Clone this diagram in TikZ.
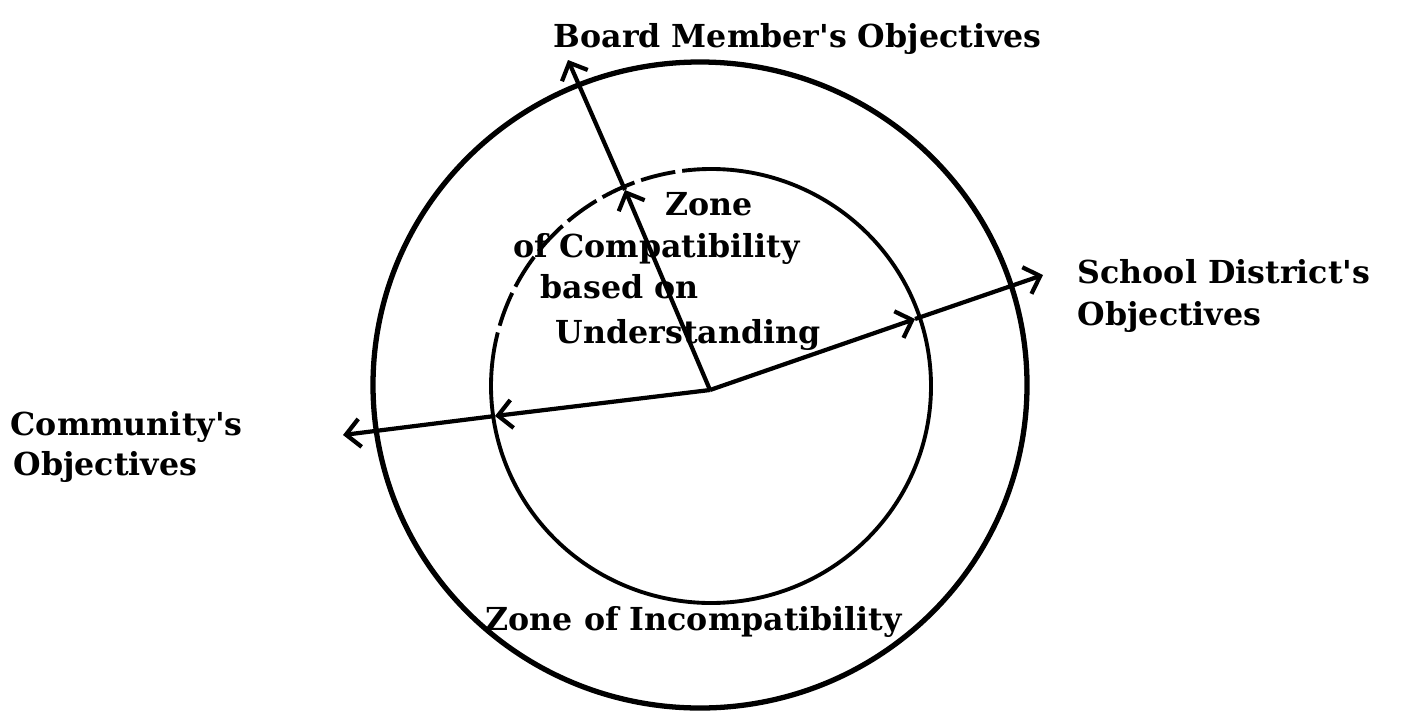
\documentclass[tikz,border=0pt]{standalone}
\usepackage{fontspec}
\setmainfont{DejaVu Serif}
\usetikzlibrary{arrows.meta}
\begin{document}
\begin{tikzpicture}[x=0.01cm,y=-0.01cm,
  lbl/.style={font=\bfseries\fontsize{9.0}{11.7}\selectfont, inner sep=0pt, anchor=base west},
  ring/.style={line width=1.5pt},
  inring/.style={line width=1.1pt},
  arr/.style={line width=1.2pt, -{Straight Barb[length=4pt,width=8pt,line width=1.2pt]}},
]
\useasboundingbox (0,0) rectangle (1401,712);
% rings
\draw[ring] (700,385) ellipse (327 and 323);
\draw[inring] (711,386) ++(-95:220 and 217) arc[start angle=-95, end angle=185, x radius=220, y radius=217];
\draw[inring, dash pattern=on 10pt off 2pt] (711,386) ++(185:220 and 217) arc[start angle=185, end angle=265, x radius=220, y radius=217];
% arrow points
\coordinate (c) at (710,390);
\coordinate (bm) at (625,190);
\coordinate (bt) at (568,60);
\coordinate (sm) at (915,319);
\coordinate (st) at (1043,275);
\coordinate (cm) at (495,416);
\coordinate (ct) at (343,435);
\draw[arr] (c) -- (bm);
\draw[arr] (bm) -- (bt);
\draw[arr] (c) -- (sm);
\draw[arr] (sm) -- (st);
\draw[arr] (c) -- (cm);
\draw[arr] (cm) -- (ct);
% labels
\node[lbl] (board) at (553,47) {Board Member\textquotesingle s Objectives};
\node[lbl] (school1) at (1077,283) {School District\textquotesingle s};
\node[lbl] (school2) at (1077,325) {Objectives};
\node[lbl] (comm1) at (10,435) {Community\textquotesingle s};
\node[lbl] (comm2) at (13,475) {Objectives};
\node[lbl] (z1) at (665,215) {Zone};
\node[lbl] (z2) at (513,257) {of Compatibility};
\node[lbl] (z3) at (540,298) {based on};
\node[lbl] (z4) at (555,343) {Understanding};
\node[lbl] (inc) at (485,630) {Zone of Incompatibility};
\end{tikzpicture}
\end{document}
